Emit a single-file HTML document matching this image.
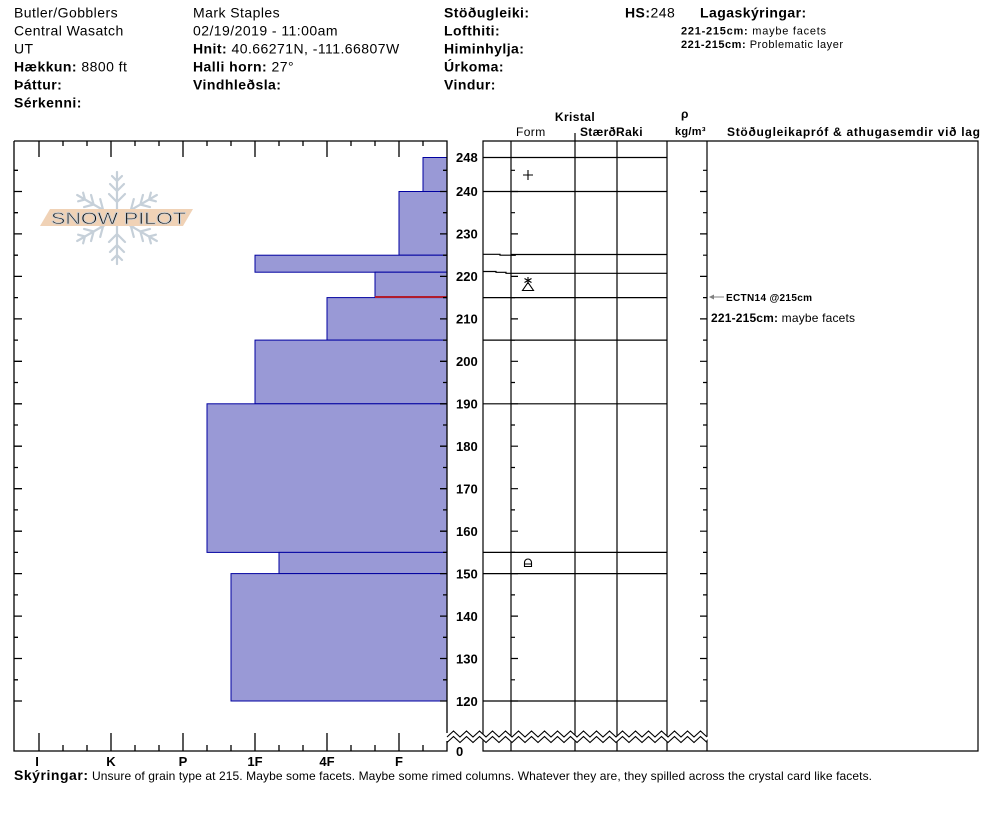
<!DOCTYPE html>
<html><head><meta charset="utf-8"><style>
html,body{margin:0;padding:0;background:#fff;}
svg{display:block;}
text{font-family:"Liberation Sans",Arial,sans-serif;fill:#000;}
.b{font-weight:bold;}
</style></head><body>
<svg width="994" height="840" viewBox="0 0 994 840" xmlns="http://www.w3.org/2000/svg">
<!-- Header -->
<g font-size="14" letter-spacing="0.45">
<text x="14" y="17.5">Butler/Gobblers</text>
<text x="14" y="35.5">Central Wasatch</text>
<text x="14" y="53.5">UT</text>
<text x="14" y="71.5"><tspan class="b">Hækkun:</tspan> 8800 ft</text>
<text x="14" y="89.5" class="b">Þáttur:</text>
<text x="14" y="107.5" class="b">Sérkenni:</text>
<text x="193" y="17.5">Mark Staples</text>
<text x="193" y="35.5">02/19/2019 - 11:00am</text>
<text x="193" y="53.5"><tspan class="b">Hnit:</tspan> 40.66271N, -111.66807W</text>
<text x="193" y="71.5"><tspan class="b">Halli horn:</tspan> 27°</text>
<text x="193" y="89.5" class="b">Vindhleðsla:</text>
<text x="444" y="17.5" class="b">Stöðugleiki:</text>
<text x="444" y="35.5" class="b">Lofthiti:</text>
<text x="444" y="53.5" class="b">Himinhylja:</text>
<text x="444" y="71.5" class="b">Úrkoma:</text>
<text x="444" y="89.5" class="b">Vindur:</text>
<text x="625" y="17.5"><tspan class="b">HS:</tspan>248</text>
<text x="700" y="17.5" class="b">Lagaskýringar:</text>
</g>
<text x="681" y="34.5" font-size="11" textLength="145" lengthAdjust="spacing"><tspan class="b">221-215cm:</tspan> maybe facets</text>
<text x="681" y="48" font-size="11" textLength="162" lengthAdjust="spacing"><tspan class="b">221-215cm:</tspan> Problematic layer</text>

<!-- Table headers -->
<text x="575" y="121" font-size="12" class="b" text-anchor="middle" letter-spacing="0.4">Kristal</text>
<text x="516" y="136" font-size="12" letter-spacing="0.4">Form</text>
<text x="580" y="136" font-size="12" class="b" letter-spacing="0.3">Stærð</text>
<text x="616" y="136" font-size="12" class="b" letter-spacing="0.4">Raki</text>
<text x="681" y="118" font-size="12" class="b">ρ</text>
<text x="675" y="135" font-size="11" class="b" letter-spacing="0.3">kg/m³</text>
<text x="727" y="136" font-size="12" class="b" textLength="253" lengthAdjust="spacing">Stöðugleikapróf &amp; athugasemdir við lag</text>

<!-- Snowpilot logo -->
<g transform="translate(117,218)" stroke="#c6d0d9" stroke-width="2.2" fill="none" stroke-linecap="round">
<g id="arm"><path d="M0 0V-46M0-16l-8-8M0-16l8-8M0-27l-7-7M0-27l7-7M0-37l-5-5M0-37l5-5"/></g>
<use href="#arm" transform="rotate(60)"/>
<use href="#arm" transform="rotate(120)"/>
<use href="#arm" transform="rotate(180)"/>
<use href="#arm" transform="rotate(240)"/>
<use href="#arm" transform="rotate(300)"/>
</g>
<polygon points="40,226 50,209 193,209 183,226" fill="#f0d2b6"/>
<text x="51" y="224" font-size="17" textLength="135" lengthAdjust="spacingAndGlyphs" fill="#fff" stroke="#c9ced3" stroke-width="0.8">SNOW PILOT</text>

<!-- Hardness bars -->
<g fill="#9999d6" stroke="#0000a0" stroke-width="1">
<rect x="423" y="157.5" width="24" height="34"/>
<rect x="399" y="191.5" width="48" height="63.7"/>
<rect x="255" y="255.2" width="192" height="17"/>
<rect x="375" y="272.2" width="72" height="25.4"/>
<rect x="327" y="297.6" width="120" height="42.5"/>
<rect x="255" y="340.1" width="192" height="63.7"/>
<rect x="207" y="403.8" width="240" height="148.6"/>
<rect x="279" y="552.4" width="168" height="21.2"/>
<rect x="231" y="573.6" width="216" height="127.4"/>
</g>
<line x1="375" y1="297" x2="447" y2="297" stroke="#b01c2e" stroke-width="2"/>

<!-- Hardness chart frame -->
<g stroke="#000" stroke-width="1.3" fill="none">
<path d="M14 141H447V733M447 741V751H14V141"/>
<path d="M39 141v16M111 141v16M183 141v16M255 141v16M327 141v16M399 141v16"/>
<path d="M63 141v5M87 141v5M135 141v5M159 141v5M207 141v5M231 141v5M279 141v5M303 141v5M351 141v5M375 141v5M423 141v5"/>
<path d="M39 751v-18M111 751v-18M183 751v-18M255 751v-18M327 751v-18M399 751v-18"/>
<path d="M63 751v-6M87 751v-6M135 751v-6M159 751v-6M207 751v-6M231 751v-6M279 751v-6M303 751v-6M351 751v-6M375 751v-6M423 751v-6"/>
<path d="M14 191.5h8M14 233.9h8M14 276.4h8M14 318.9h8M14 361.3h8M14 403.8h8M14 446.2h8M14 488.7h8M14 531.2h8M14 573.6h8M14 616.1h8M14 658.5h8M14 701h8"/>
<path d="M14 170.3h4M14 212.7h4M14 255.2h4M14 297.6h4M14 340.1h4M14 382.5h4M14 425h4M14 467.5h4M14 509.9h4M14 552.4h4M14 594.9h4M14 637.3h4M14 679.8h4"/>
<path d="M447 191.5h-7M447 233.9h-7M447 276.4h-7M447 318.9h-7M447 361.3h-7M447 403.8h-7M447 446.2h-7M447 488.7h-7M447 531.2h-7M447 573.6h-7M447 616.1h-7M447 658.5h-7M447 701h-7"/>
<path d="M447 170.3h-4M447 212.7h-4M447 255.2h-4M447 297.6h-4M447 340.1h-4M447 382.5h-4M447 425h-4M447 467.5h-4M447 509.9h-4M447 552.4h-4M447 594.9h-4M447 637.3h-4M447 679.8h-4"/>
</g>

<!-- hardness labels -->
<g font-size="13" class="b" text-anchor="middle">
<text x="37" y="766">I</text>
<text x="111" y="766">K</text>
<text x="183" y="766">P</text>
<text x="255" y="766">1F</text>
<text x="327" y="766">4F</text>
<text x="399" y="766">F</text>
</g>

<!-- depth labels -->
<g font-size="13" class="b">
<text x="456" y="162">248</text>
<text x="456" y="196">240</text>
<text x="456" y="238.5">230</text>
<text x="456" y="281">220</text>
<text x="456" y="323.5">210</text>
<text x="456" y="366">200</text>
<text x="456" y="408.5">190</text>
<text x="456" y="451">180</text>
<text x="456" y="493.5">170</text>
<text x="456" y="536">160</text>
<text x="456" y="578.5">150</text>
<text x="456" y="621">140</text>
<text x="456" y="663.5">130</text>
<text x="456" y="706">120</text>
<text x="456" y="756">0</text>
</g>

<!-- Table grid -->
<g stroke="#000" stroke-width="1.2" fill="none">
<path d="M483 141H978V751H483Z"/>
<path d="M511 141V751M575 133V751M617 141V751M667 141V751M707 141V751"/>
<path d="M483 157.5H667M483 191.5H667M483 254.3H500V255.2H516M511 254.5H667M483 271.5H496V272.3H506V273.3H667M483 297.6H667M483 340.1H667M483 403.8H667M483 552.4H667M483 573.6H667M483 701H667"/>
<path d="M511 191.5h7M511 233.9h7M511 276.4h7M511 318.9h7M511 361.3h7M511 403.8h7M511 446.2h7M511 488.7h7M511 531.2h7M511 573.6h7M511 616.1h7M511 658.5h7M511 701h7"/>
<path d="M511 170.3h4M511 212.7h4M511 255.2h4M511 297.6h4M511 340.1h4M511 382.5h4M511 425h4M511 467.5h4M511 509.9h4M511 552.4h4M511 594.9h4M511 637.3h4M511 679.8h4"/>
<path d="M707 191.5h-7M707 233.9h-7M707 276.4h-7M707 318.9h-7M707 361.3h-7M707 403.8h-7M707 446.2h-7M707 488.7h-7M707 531.2h-7M707 573.6h-7M707 616.1h-7M707 658.5h-7M707 701h-7"/>
<path d="M707 170.3h-4M707 212.7h-4M707 255.2h-4M707 297.6h-4M707 340.1h-4M707 382.5h-4M707 425h-4M707 467.5h-4M707 509.9h-4M707 552.4h-4M707 594.9h-4M707 637.3h-4M707 679.8h-4"/>
</g>

<!-- zigzag break -->
<polyline fill="none" stroke="#fff" stroke-width="5" points="447,739.8 453.5,733.8 460,739.8 466.5,733.8 473,739.8 479.5,733.8 486,739.8 492.5,733.8 499,739.8 505.5,733.8 512,739.8 518.5,733.8 525,739.8 531.5,733.8 538,739.8 544.5,733.8 551,739.8 557.5,733.8 564,739.8 570.5,733.8 577,739.8 583.5,733.8 590,739.8 596.5,733.8 603,739.8 609.5,733.8 616,739.8 622.5,733.8 629,739.8 635.5,733.8 642,739.8 648.5,733.8 655,739.8 661.5,733.8 668,739.8 674.5,733.8 681,739.8 687.5,733.8 694,739.8 700.5,733.8 707,739.8"/>
<g fill="none" stroke="#000" stroke-width="1.1">
<polyline points="447,737 453.5,731 460,737 466.5,731 473,737 479.5,731 486,737 492.5,731 499,737 505.5,731 512,737 518.5,731 525,737 531.5,731 538,737 544.5,731 551,737 557.5,731 564,737 570.5,731 577,737 583.5,731 590,737 596.5,731 603,737 609.5,731 616,737 622.5,731 629,737 635.5,731 642,737 648.5,731 655,737 661.5,731 668,737 674.5,731 681,737 687.5,731 694,737 700.5,731 707,737"/>
<polyline points="447,742.5 453.5,736.5 460,742.5 466.5,736.5 473,742.5 479.5,736.5 486,742.5 492.5,736.5 499,742.5 505.5,736.5 512,742.5 518.5,736.5 525,742.5 531.5,736.5 538,742.5 544.5,736.5 551,742.5 557.5,736.5 564,742.5 570.5,736.5 577,742.5 583.5,736.5 590,742.5 596.5,736.5 603,742.5 609.5,736.5 616,742.5 622.5,736.5 629,742.5 635.5,736.5 642,742.5 648.5,736.5 655,742.5 661.5,736.5 668,742.5 674.5,736.5 681,742.5 687.5,736.5 694,742.5 700.5,736.5 707,742.5"/>
</g>

<!-- grain symbols -->
<g stroke="#000" stroke-width="1.1" fill="none">
<path d="M528 170v10M523 175h10"/>
<path d="M522.5 290.5h11L528 282.5Z"/>
<path d="M528 277v7M524.5 278.5l7 4M531.5 278.5l-7 4"/>
<path d="M524.5 566.5v-4a3.5 3.5 0 0 1 7 0v4ZM524.5 564h7"/>
</g>

<!-- stability annotation -->
<g stroke="#808080" stroke-width="1" fill="#808080">
<path d="M710 297H724" fill="none"/>
<path d="M709 297l5-2.5v5Z" stroke="none"/>
</g>
<text x="726" y="301" font-size="10" class="b" textLength="86" lengthAdjust="spacing">ECTN14 @215cm</text>
<text x="711" y="322" font-size="12" textLength="144" lengthAdjust="spacing"><tspan class="b">221-215cm:</tspan> maybe facets</text>

<!-- notes -->
<text x="14" y="780" font-size="14" class="b" textLength="74" lengthAdjust="spacing">Skýringar:</text>
<text x="92" y="780" font-size="12" textLength="780" lengthAdjust="spacing">Unsure of grain type at 215. Maybe some facets. Maybe some rimed columns. Whatever they are, they spilled across the crystal card like facets.</text>
</svg>
</body></html>
